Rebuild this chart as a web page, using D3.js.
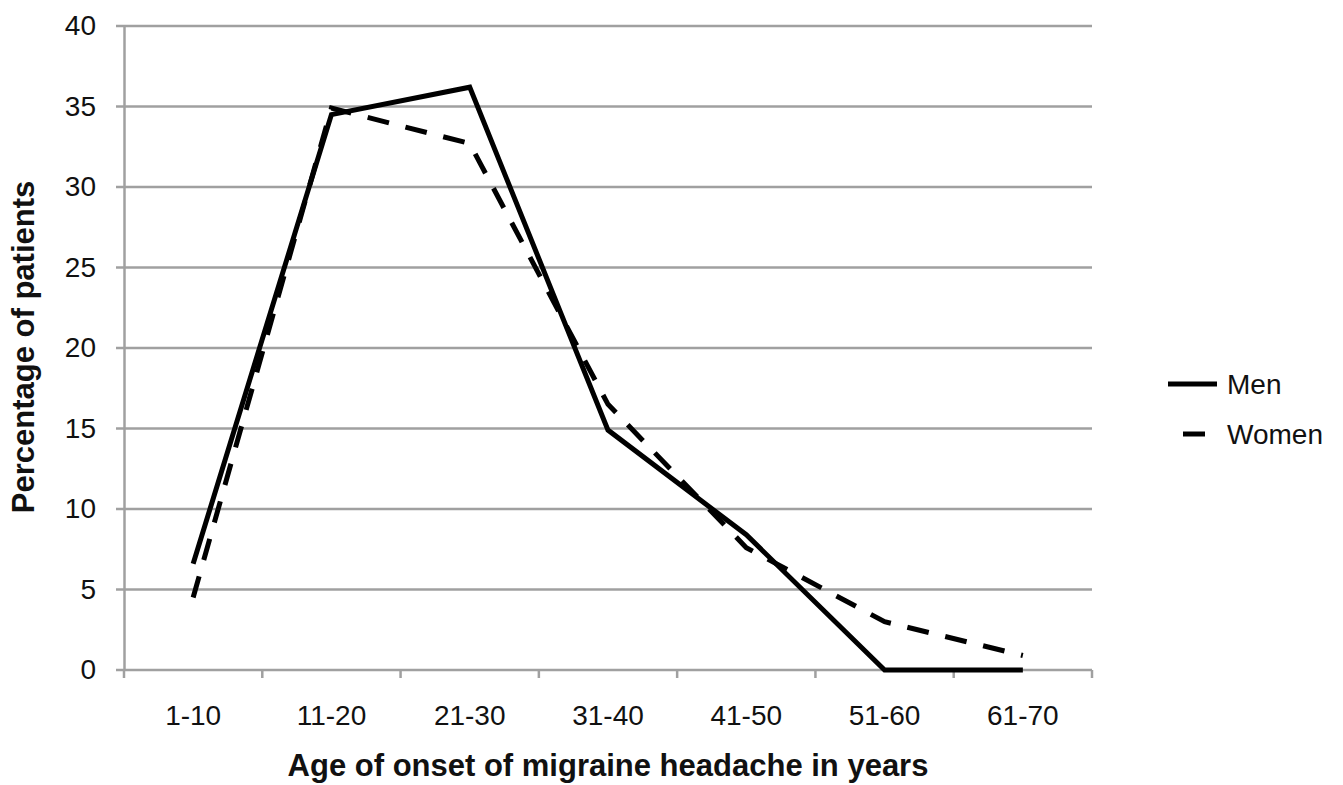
<!DOCTYPE html>
<html>
<head>
<meta charset="utf-8">
<script src="https://cdn.jsdelivr.net/npm/d3@7"></script>
<style>
  body { margin: 0; background: #fff; }
  text { font-family: "Liberation Sans", Arial, sans-serif; fill: #111; }
</style>
</head>
<body>
<svg id="chart" width="1343" height="785"></svg>
<script>
var categories = ['1-10', '11-20', '21-30', '31-40', '41-50', '51-60', '61-70'];
var men = [6.6, 34.5, 36.2, 14.9, 8.4, 0, 0];
var women = [4.5, 34.9, 32.7, 16.5, 7.6, 3.0, 0.9];
var yTicks = [0, 5, 10, 15, 20, 25, 30, 35, 40];

var svg = d3.select('#chart');
var margin = { left: 124, top: 26, right: 251, bottom: 115 };
var width = 1343 - margin.left - margin.right;
var height = 785 - margin.top - margin.bottom;
var g = svg.append('g').attr('transform', 'translate(' + margin.left + ',' + margin.top + ')');

var x = d3.scaleBand().domain(categories).range([0, width]);
var y = d3.scaleLinear().domain([0, 40]).range([height, 0]);

var GRID = '#a0a0a0';
var DASH = '22,17';

// gridlines
g.selectAll('.grid').data(yTicks).enter().append('line')
    .attr('x1', -8).attr('x2', width)
    .attr('y1', function (d) { return y(d); })
    .attr('y2', function (d) { return y(d); })
    .attr('stroke', GRID).attr('stroke-width', 2.5);

// y axis
var yAxis = g.append('g').call(d3.axisLeft(y).tickValues(yTicks).tickSize(0).tickPadding(28));
yAxis.select('.domain').attr('stroke', GRID).attr('stroke-width', 2.5);
yAxis.selectAll('text').style('font-size', '28px').attr('fill', '#111');

// x axis
var xAxis = g.append('g').attr('transform', 'translate(0,' + height + ')')
    .call(d3.axisBottom(x).tickSize(0).tickPadding(35));
xAxis.select('.domain').remove();
xAxis.selectAll('text').style('font-size', '28px').attr('fill', '#111');
var bounds = categories.map(function (c) { return x(c); }).concat([width]);
g.selectAll('.xtick').data(bounds).enter().append('line')
    .attr('x1', function (d) { return d; }).attr('x2', function (d) { return d; })
    .attr('y1', height).attr('y2', height + 8)
    .attr('stroke', GRID).attr('stroke-width', 2.5);

var line = d3.line()
    .x(function (d, i) { return x(categories[i]) + x.bandwidth() / 2; })
    .y(function (d) { return y(d); });

g.append('path').datum(women).attr('d', line)
    .attr('fill', 'none').attr('stroke', '#000').attr('stroke-width', 5)
    .attr('stroke-dasharray', DASH);
g.append('path').datum(men).attr('d', line)
    .attr('fill', 'none').attr('stroke', '#000').attr('stroke-width', 5)
    .attr('stroke-linejoin', 'miter');

// axis titles
svg.append('text').attr('x', 608).attr('y', 776).attr('text-anchor', 'middle')
    .style('font-size', '31px').style('font-weight', 'bold')
    .text('Age of onset of migraine headache in years');
svg.append('text').attr('transform', 'translate(23,347) rotate(-90)').attr('text-anchor', 'middle')
    .attr('dy', '0.35em')
    .style('font-size', '31px').style('font-weight', 'bold')
    .text('Percentage of patients');

// legend
var legend = [{ name: 'Men', dash: null }, { name: 'Women', dash: DASH }];
var lg = svg.selectAll('.legend').data(legend).enter().append('g')
    .attr('transform', function (d, i) { return 'translate(1168,' + (384 + i * 50) + ')'; });
lg.append('line').attr('x1', 0).attr('x2', 49)
    .attr('stroke', '#000').attr('stroke-width', 5)
    .attr('stroke-dasharray', function (d) { return d.dash; })
    .attr('stroke-dashoffset', function (d) { return d.dash ? 24 : null; });
lg.append('text').attr('x', 59).attr('dy', '0.35em')
    .style('font-size', '28px').text(function (d) { return d.name; });
</script>
</body>
</html>
